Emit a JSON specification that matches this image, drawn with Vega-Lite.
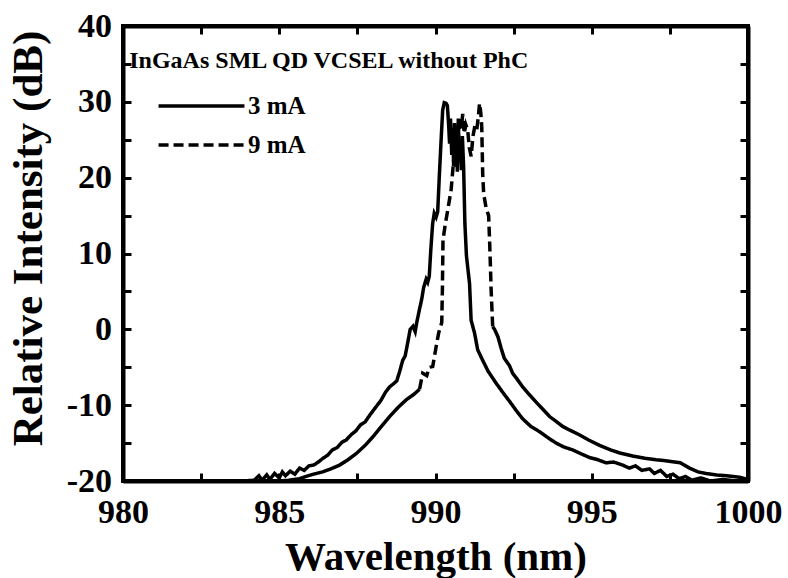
{
"$schema": "https://vega.github.io/schema/vega-lite/v6.json",
"width": 625, "height": 455,
"autosize": {"type": "none"},
"padding": {"left": 123, "top": 26, "right": 40, "bottom": 97},
"background": "white",
"config": {
  "view": {"stroke": "black", "strokeWidth": 4},
  "font": "Liberation Serif",
  "axis": {"grid": false, "domainColor": "black", "domainWidth": 4, "tickColor": "black", "tickWidth": 3, "tickSize": -8, "labelColor": "black", "labelFont": "Liberation Serif", "labelFontWeight": "bold", "labelFontSize": 34, "labelFlush": false, "labelOverlap": false, "titleColor": "black", "titleFont": "Liberation Serif", "titleFontWeight": "bold"}
},
"datasets": {
"spectra": [
{"w":983.8,"p":-20.0,"s":"3 mA","part":"main"},
{"w":984.2,"p":-19.9,"s":"3 mA","part":"main"},
{"w":984.35,"p":-19.3,"s":"3 mA","part":"main"},
{"w":984.45,"p":-19.9,"s":"3 mA","part":"main"},
{"w":984.6,"p":-19.2,"s":"3 mA","part":"main"},
{"w":984.7,"p":-19.8,"s":"3 mA","part":"main"},
{"w":984.85,"p":-19.0,"s":"3 mA","part":"main"},
{"w":985.0,"p":-19.6,"s":"3 mA","part":"main"},
{"w":985.1,"p":-18.8,"s":"3 mA","part":"main"},
{"w":985.2,"p":-19.3,"s":"3 mA","part":"main"},
{"w":985.35,"p":-18.7,"s":"3 mA","part":"main"},
{"w":985.5,"p":-19.1,"s":"3 mA","part":"main"},
{"w":985.65,"p":-18.3,"s":"3 mA","part":"main"},
{"w":985.8,"p":-18.6,"s":"3 mA","part":"main"},
{"w":985.95,"p":-18.0,"s":"3 mA","part":"main"},
{"w":986.1,"p":-17.9,"s":"3 mA","part":"main"},
{"w":986.25,"p":-17.5,"s":"3 mA","part":"main"},
{"w":986.4,"p":-17.0,"s":"3 mA","part":"main"},
{"w":986.55,"p":-16.6,"s":"3 mA","part":"main"},
{"w":986.7,"p":-15.9,"s":"3 mA","part":"main"},
{"w":986.85,"p":-15.6,"s":"3 mA","part":"main"},
{"w":987.0,"p":-14.9,"s":"3 mA","part":"main"},
{"w":987.14,"p":-14.6,"s":"3 mA","part":"main"},
{"w":987.3,"p":-13.9,"s":"3 mA","part":"main"},
{"w":987.45,"p":-13.4,"s":"3 mA","part":"main"},
{"w":987.6,"p":-12.6,"s":"3 mA","part":"main"},
{"w":987.75,"p":-12.2,"s":"3 mA","part":"main"},
{"w":987.9,"p":-11.3,"s":"3 mA","part":"main"},
{"w":988.1,"p":-10.2,"s":"3 mA","part":"main"},
{"w":988.25,"p":-9.4,"s":"3 mA","part":"main"},
{"w":988.4,"p":-8.3,"s":"3 mA","part":"main"},
{"w":988.53,"p":-7.6,"s":"3 mA","part":"main"},
{"w":988.65,"p":-7.2,"s":"3 mA","part":"main"},
{"w":988.76,"p":-6.8,"s":"3 mA","part":"main"},
{"w":988.85,"p":-5.6,"s":"3 mA","part":"main"},
{"w":988.95,"p":-4.1,"s":"3 mA","part":"main"},
{"w":989.03,"p":-3.5,"s":"3 mA","part":"main"},
{"w":989.1,"p":-2.0,"s":"3 mA","part":"main"},
{"w":989.19,"p":0.0,"s":"3 mA","part":"main"},
{"w":989.28,"p":0.4,"s":"3 mA","part":"main"},
{"w":989.35,"p":-0.3,"s":"3 mA","part":"main"},
{"w":989.4,"p":0.9,"s":"3 mA","part":"main"},
{"w":989.48,"p":2.5,"s":"3 mA","part":"main"},
{"w":989.56,"p":4.0,"s":"3 mA","part":"main"},
{"w":989.62,"p":5.5,"s":"3 mA","part":"main"},
{"w":989.7,"p":6.6,"s":"3 mA","part":"main"},
{"w":989.75,"p":6.2,"s":"3 mA","part":"main"},
{"w":989.8,"p":7.0,"s":"3 mA","part":"main"},
{"w":989.85,"p":10.5,"s":"3 mA","part":"main"},
{"w":989.91,"p":14.0,"s":"3 mA","part":"main"},
{"w":989.96,"p":15.3,"s":"3 mA","part":"main"},
{"w":990.02,"p":14.8,"s":"3 mA","part":"main"},
{"w":990.07,"p":15.5,"s":"3 mA","part":"main"},
{"w":990.12,"p":20.0,"s":"3 mA","part":"main"},
{"w":990.18,"p":25.0,"s":"3 mA","part":"main"},
{"w":990.23,"p":28.9,"s":"3 mA","part":"main"},
{"w":990.28,"p":29.9,"s":"3 mA","part":"main"},
{"w":990.34,"p":29.8,"s":"3 mA","part":"main"},
{"w":990.38,"p":29.5,"s":"3 mA","part":"main"},
{"w":990.42,"p":27.0,"s":"3 mA","part":"main"},
{"w":990.45,"p":24.5,"s":"3 mA","part":"main"},
{"w":990.48,"p":27.8,"s":"3 mA","part":"main"},
{"w":990.52,"p":23.0,"s":"3 mA","part":"main"},
{"w":990.55,"p":26.5,"s":"3 mA","part":"main"},
{"w":990.58,"p":21.5,"s":"3 mA","part":"main"},
{"w":990.61,"p":27.2,"s":"3 mA","part":"main"},
{"w":990.64,"p":22.5,"s":"3 mA","part":"main"},
{"w":990.67,"p":26.0,"s":"3 mA","part":"main"},
{"w":990.7,"p":20.8,"s":"3 mA","part":"main"},
{"w":990.73,"p":27.8,"s":"3 mA","part":"main"},
{"w":990.76,"p":22.0,"s":"3 mA","part":"main"},
{"w":990.8,"p":24.5,"s":"3 mA","part":"main"},
{"w":990.83,"p":21.0,"s":"3 mA","part":"main"},
{"w":990.86,"p":25.5,"s":"3 mA","part":"main"},
{"w":990.9,"p":21.4,"s":"3 mA","part":"main"},
{"w":990.94,"p":14.0,"s":"3 mA","part":"main"},
{"w":990.99,"p":9.7,"s":"3 mA","part":"main"},
{"w":991.09,"p":6.0,"s":"3 mA","part":"main"},
{"w":991.14,"p":1.2,"s":"3 mA","part":"main"},
{"w":991.25,"p":-0.5,"s":"3 mA","part":"main"},
{"w":991.35,"p":-2.7,"s":"3 mA","part":"main"},
{"w":991.5,"p":-4.0,"s":"3 mA","part":"main"},
{"w":991.68,"p":-5.5,"s":"3 mA","part":"main"},
{"w":991.94,"p":-7.1,"s":"3 mA","part":"main"},
{"w":992.15,"p":-8.3,"s":"3 mA","part":"main"},
{"w":992.37,"p":-9.5,"s":"3 mA","part":"main"},
{"w":992.6,"p":-10.8,"s":"3 mA","part":"main"},
{"w":992.79,"p":-11.8,"s":"3 mA","part":"main"},
{"w":993.05,"p":-12.8,"s":"3 mA","part":"main"},
{"w":993.33,"p":-13.5,"s":"3 mA","part":"main"},
{"w":993.6,"p":-14.3,"s":"3 mA","part":"main"},
{"w":993.86,"p":-15.0,"s":"3 mA","part":"main"},
{"w":994.1,"p":-15.5,"s":"3 mA","part":"main"},
{"w":994.39,"p":-15.9,"s":"3 mA","part":"main"},
{"w":994.65,"p":-16.4,"s":"3 mA","part":"main"},
{"w":994.93,"p":-16.9,"s":"3 mA","part":"main"},
{"w":995.2,"p":-17.2,"s":"3 mA","part":"main"},
{"w":995.45,"p":-17.6,"s":"3 mA","part":"main"},
{"w":995.7,"p":-17.5,"s":"3 mA","part":"main"},
{"w":995.99,"p":-17.9,"s":"3 mA","part":"main"},
{"w":996.2,"p":-18.3,"s":"3 mA","part":"main"},
{"w":996.4,"p":-18.0,"s":"3 mA","part":"main"},
{"w":996.6,"p":-18.6,"s":"3 mA","part":"main"},
{"w":996.85,"p":-18.4,"s":"3 mA","part":"main"},
{"w":997.0,"p":-19.0,"s":"3 mA","part":"main"},
{"w":997.2,"p":-18.6,"s":"3 mA","part":"main"},
{"w":997.4,"p":-19.4,"s":"3 mA","part":"main"},
{"w":997.6,"p":-19.1,"s":"3 mA","part":"main"},
{"w":997.8,"p":-19.7,"s":"3 mA","part":"main"},
{"w":998.0,"p":-19.4,"s":"3 mA","part":"main"},
{"w":998.2,"p":-19.9,"s":"3 mA","part":"main"},
{"w":998.5,"p":-19.6,"s":"3 mA","part":"main"},
{"w":998.8,"p":-20.0,"s":"3 mA","part":"main"},
{"w":999.2,"p":-19.8,"s":"3 mA","part":"main"},
{"w":999.6,"p":-20.0,"s":"3 mA","part":"main"},
{"w":1000.0,"p":-20.0,"s":"3 mA","part":"main"},
{"w":984.5,"p":-20.0,"s":"9 mA","part":"left"},
{"w":985.0,"p":-20.0,"s":"9 mA","part":"left"},
{"w":985.3,"p":-19.9,"s":"9 mA","part":"left"},
{"w":985.65,"p":-19.7,"s":"9 mA","part":"left"},
{"w":985.86,"p":-19.4,"s":"9 mA","part":"left"},
{"w":986.1,"p":-19.1,"s":"9 mA","part":"left"},
{"w":986.39,"p":-18.8,"s":"9 mA","part":"left"},
{"w":986.65,"p":-18.4,"s":"9 mA","part":"left"},
{"w":986.93,"p":-17.9,"s":"9 mA","part":"left"},
{"w":987.2,"p":-17.2,"s":"9 mA","part":"left"},
{"w":987.46,"p":-16.4,"s":"9 mA","part":"left"},
{"w":987.75,"p":-15.3,"s":"9 mA","part":"left"},
{"w":987.99,"p":-14.2,"s":"9 mA","part":"left"},
{"w":988.25,"p":-12.9,"s":"9 mA","part":"left"},
{"w":988.53,"p":-11.5,"s":"9 mA","part":"left"},
{"w":988.8,"p":-10.3,"s":"9 mA","part":"left"},
{"w":989.06,"p":-9.3,"s":"9 mA","part":"left"},
{"w":989.3,"p":-8.6,"s":"9 mA","part":"left"},
{"w":989.49,"p":-7.9,"s":"9 mA","part":"left"},
{"w":989.49,"p":-7.9,"s":"9 mA","part":"core"},
{"w":989.59,"p":-5.8,"s":"9 mA","part":"core"},
{"w":989.72,"p":-6.1,"s":"9 mA","part":"core"},
{"w":989.8,"p":-5.0,"s":"9 mA","part":"core"},
{"w":989.91,"p":-4.9,"s":"9 mA","part":"core"},
{"w":989.97,"p":-3.5,"s":"9 mA","part":"core"},
{"w":990.02,"p":-2.3,"s":"9 mA","part":"core"},
{"w":990.1,"p":-0.5,"s":"9 mA","part":"core"},
{"w":990.2,"p":0.9,"s":"9 mA","part":"core"},
{"w":990.22,"p":5.0,"s":"9 mA","part":"core"},
{"w":990.24,"p":11.8,"s":"9 mA","part":"core"},
{"w":990.3,"p":13.5,"s":"9 mA","part":"core"},
{"w":990.39,"p":15.7,"s":"9 mA","part":"core"},
{"w":990.5,"p":18.4,"s":"9 mA","part":"core"},
{"w":990.58,"p":22.3,"s":"9 mA","part":"core"},
{"w":990.66,"p":21.5,"s":"9 mA","part":"core"},
{"w":990.72,"p":25.0,"s":"9 mA","part":"core"},
{"w":990.79,"p":28.0,"s":"9 mA","part":"core"},
{"w":990.83,"p":26.5,"s":"9 mA","part":"core"},
{"w":990.87,"p":28.4,"s":"9 mA","part":"core"},
{"w":990.92,"p":25.8,"s":"9 mA","part":"core"},
{"w":990.97,"p":27.0,"s":"9 mA","part":"core"},
{"w":991.03,"p":26.3,"s":"9 mA","part":"core"},
{"w":991.08,"p":24.0,"s":"9 mA","part":"core"},
{"w":991.14,"p":22.8,"s":"9 mA","part":"core"},
{"w":991.2,"p":25.5,"s":"9 mA","part":"core"},
{"w":991.26,"p":26.8,"s":"9 mA","part":"core"},
{"w":991.32,"p":26.3,"s":"9 mA","part":"core"},
{"w":991.37,"p":28.0,"s":"9 mA","part":"core"},
{"w":991.41,"p":29.8,"s":"9 mA","part":"core"},
{"w":991.45,"p":28.5,"s":"9 mA","part":"core"},
{"w":991.48,"p":26.7,"s":"9 mA","part":"core"},
{"w":991.51,"p":20.6,"s":"9 mA","part":"core"},
{"w":991.54,"p":17.9,"s":"9 mA","part":"core"},
{"w":991.62,"p":16.0,"s":"9 mA","part":"core"},
{"w":991.7,"p":15.0,"s":"9 mA","part":"core"},
{"w":991.73,"p":11.8,"s":"9 mA","part":"core"},
{"w":991.76,"p":8.0,"s":"9 mA","part":"core"},
{"w":991.78,"p":5.2,"s":"9 mA","part":"core"},
{"w":991.83,"p":0.35,"s":"9 mA","part":"core"},
{"w":991.83,"p":0.35,"s":"9 mA","part":"right"},
{"w":991.89,"p":0.0,"s":"9 mA","part":"right"},
{"w":992.0,"p":-1.0,"s":"9 mA","part":"right"},
{"w":992.1,"p":-2.5,"s":"9 mA","part":"right"},
{"w":992.2,"p":-3.8,"s":"9 mA","part":"right"},
{"w":992.37,"p":-4.8,"s":"9 mA","part":"right"},
{"w":992.47,"p":-5.8,"s":"9 mA","part":"right"},
{"w":992.6,"p":-6.5,"s":"9 mA","part":"right"},
{"w":992.79,"p":-7.6,"s":"9 mA","part":"right"},
{"w":993.0,"p":-8.6,"s":"9 mA","part":"right"},
{"w":993.22,"p":-9.6,"s":"9 mA","part":"right"},
{"w":993.45,"p":-10.6,"s":"9 mA","part":"right"},
{"w":993.65,"p":-11.5,"s":"9 mA","part":"right"},
{"w":993.85,"p":-12.1,"s":"9 mA","part":"right"},
{"w":994.07,"p":-12.8,"s":"9 mA","part":"right"},
{"w":994.3,"p":-13.3,"s":"9 mA","part":"right"},
{"w":994.6,"p":-13.9,"s":"9 mA","part":"right"},
{"w":994.9,"p":-14.6,"s":"9 mA","part":"right"},
{"w":995.25,"p":-15.3,"s":"9 mA","part":"right"},
{"w":995.6,"p":-15.9,"s":"9 mA","part":"right"},
{"w":995.9,"p":-16.3,"s":"9 mA","part":"right"},
{"w":996.31,"p":-16.7,"s":"9 mA","part":"right"},
{"w":996.7,"p":-17.0,"s":"9 mA","part":"right"},
{"w":997.06,"p":-17.2,"s":"9 mA","part":"right"},
{"w":997.3,"p":-17.3,"s":"9 mA","part":"right"},
{"w":997.59,"p":-17.45,"s":"9 mA","part":"right"},
{"w":997.83,"p":-17.6,"s":"9 mA","part":"right"},
{"w":998.13,"p":-18.3,"s":"9 mA","part":"right"},
{"w":998.4,"p":-18.8,"s":"9 mA","part":"right"},
{"w":998.66,"p":-19.0,"s":"9 mA","part":"right"},
{"w":999.0,"p":-19.2,"s":"9 mA","part":"right"},
{"w":999.32,"p":-19.3,"s":"9 mA","part":"right"},
{"w":999.73,"p":-19.5,"s":"9 mA","part":"right"},
{"w":1000.0,"p":-19.8,"s":"9 mA","part":"right"}
],
"note": [
{"w":980.2,"p":34.46,"label":"InGaAs SML QD VCSEL without PhC"}
]
},
"layer": [
  {
    "data": {"name": "spectra"},
    "transform": [{"filter": "datum.part == 'main' || datum.part == 'core'"}],
    "mark": {"type": "line", "color": "black", "strokeWidth": 3.5, "clip": true},
    "encoding": {
      "x": {"field": "w", "type": "quantitative", "scale": {"domain": [980, 1000], "nice": false, "zero": false},
        "axis": {"orient": "bottom", "values": [980, 982.5, 985, 987.5, 990, 992.5, 995, 997.5, 1000], "labelExpr": "datum.value % 5 == 0 ? '' + datum.value : ''", "labelPadding": 22, "title": "Wavelength (nm)", "titleFontSize": 41, "titleY": 88, "titleBaseline": "alphabetic"}},
      "y": {"field": "p", "type": "quantitative", "scale": {"domain": [-20, 40], "nice": false, "zero": false},
        "axis": {"orient": "left", "values": [-20, -15, -10, -5, 0, 5, 10, 15, 20, 25, 30, 35, 40], "labelExpr": "datum.value % 10 == 0 ? '' + datum.value : ''", "labelPadding": 19.5, "title": "Relative Intensity (dB)", "titleFontSize": 43, "titleX": -82, "titleY": 212, "titleBaseline": "alphabetic"}},
      "strokeDash": {"field": "s", "type": "nominal", "scale": {"domain": ["3 mA", "9 mA"], "range": [[1, 0], [10, 5]]},
        "legend": {"orient": "none", "legendX": 62, "legendY": 63.5, "title": null, "symbolType": "M-3,0H3", "symbolSize": 820, "symbolStrokeWidth": 3.5, "symbolStrokeColor": "black", "labelFont": "Liberation Serif", "labelFontSize": 25, "labelFontWeight": "bold", "labelColor": "black", "labelOffset": 30, "rowPadding": 9, "padding": 0}}
    }
  },
  {
    "data": {"name": "spectra"},
    "transform": [{"filter": "datum.part == 'left' || datum.part == 'right'"}],
    "mark": {"type": "line", "color": "black", "strokeWidth": 3.5, "clip": true},
    "encoding": {
      "x": {"field": "w", "type": "quantitative",
        "axis": {"orient": "top", "values": [980, 982.5, 985, 987.5, 990, 992.5, 995, 997.5, 1000], "labels": false, "title": null}},
      "y": {"field": "p", "type": "quantitative",
        "axis": {"orient": "right", "values": [-20, -15, -10, -5, 0, 5, 10, 15, 20, 25, 30, 35, 40], "labels": false, "title": null}},
      "detail": {"field": "part", "type": "nominal"}
    }
  },
  {
    "data": {"name": "note"},
    "mark": {"type": "text", "align": "left", "baseline": "alphabetic", "font": "Liberation Serif", "fontSize": 24, "fontWeight": "bold", "color": "black"},
    "encoding": {
      "x": {"field": "w", "type": "quantitative", "axis": null},
      "y": {"field": "p", "type": "quantitative", "axis": null},
      "text": {"field": "label"}
    }
  }
],
"resolve": {"axis": {"x": "independent", "y": "independent"}}
}
